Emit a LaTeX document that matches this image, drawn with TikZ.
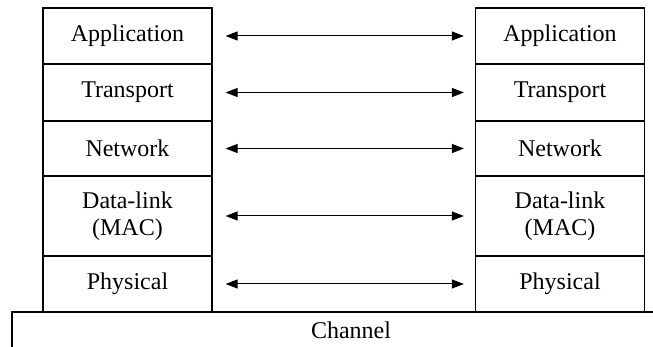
\documentclass[tikz,border=0pt]{standalone}
\usepackage{fontspec}
\setmainfont{Liberation Serif}
\usetikzlibrary{arrows.meta}
\begin{document}
\begin{tikzpicture}[x=0.5pt,y=-0.5pt,
  layer/.style={draw=black, line width=0.6pt, minimum width=84.5pt, inner sep=0pt,
    align=center, font=\fontsize{12}{13.5}\selectfont},
  peer/.style={line width=0.5pt, {Triangle[length=6pt,width=4.5pt]}-{Triangle[length=6pt,width=4.5pt]},
    shorten <=6.5pt, shorten >=5.5pt},
  label/.style={font=\fontsize{12}{13.5}\selectfont, inner sep=0pt}]
\useasboundingbox (0,0) rectangle (653,347);
% left protocol stack
\node[layer, minimum height=28pt]   (appL) at (127.5,36)  {Application};
\node[layer, minimum height=28.5pt] (traL) at (127.5,92.5) {Transport};
\node[layer, minimum height=27.5pt] (netL) at (127.5,148.5) {Network};
\node[layer, minimum height=40pt]   (dllL) at (127.5,216) {Data-link\\(MAC)};
\node[layer, minimum height=28pt]   (phyL) at (127.5,284) {Physical};
% right protocol stack
\node[layer, minimum height=28pt]   (appR) at (560,36)  {Application};
\node[layer, minimum height=28.5pt] (traR) at (560,92.5) {Transport};
\node[layer, minimum height=27.5pt] (netR) at (560,148.5) {Network};
\node[layer, minimum height=40pt]   (dllR) at (560,216) {Data-link\\(MAC)};
\node[layer, minimum height=28pt]   (phyR) at (560,284) {Physical};
% peer-to-peer links
\draw[peer] (appL.east) -- (appR.west);
\draw[peer] (traL.east) -- (traR.west);
\draw[peer] (netL.east) -- (netR.west);
\draw[peer] (dllL.east) -- (dllR.west);
\draw[peer] (phyL.east) -- (phyR.west);
% shared channel
\coordinate (chTop) at (653,312);
\coordinate (chBot) at (12,347);
\draw[line width=0.6pt] (chBot) |- (chTop);
\node[label] (channel) at (351,330) {Channel};
\end{tikzpicture}
\end{document}
